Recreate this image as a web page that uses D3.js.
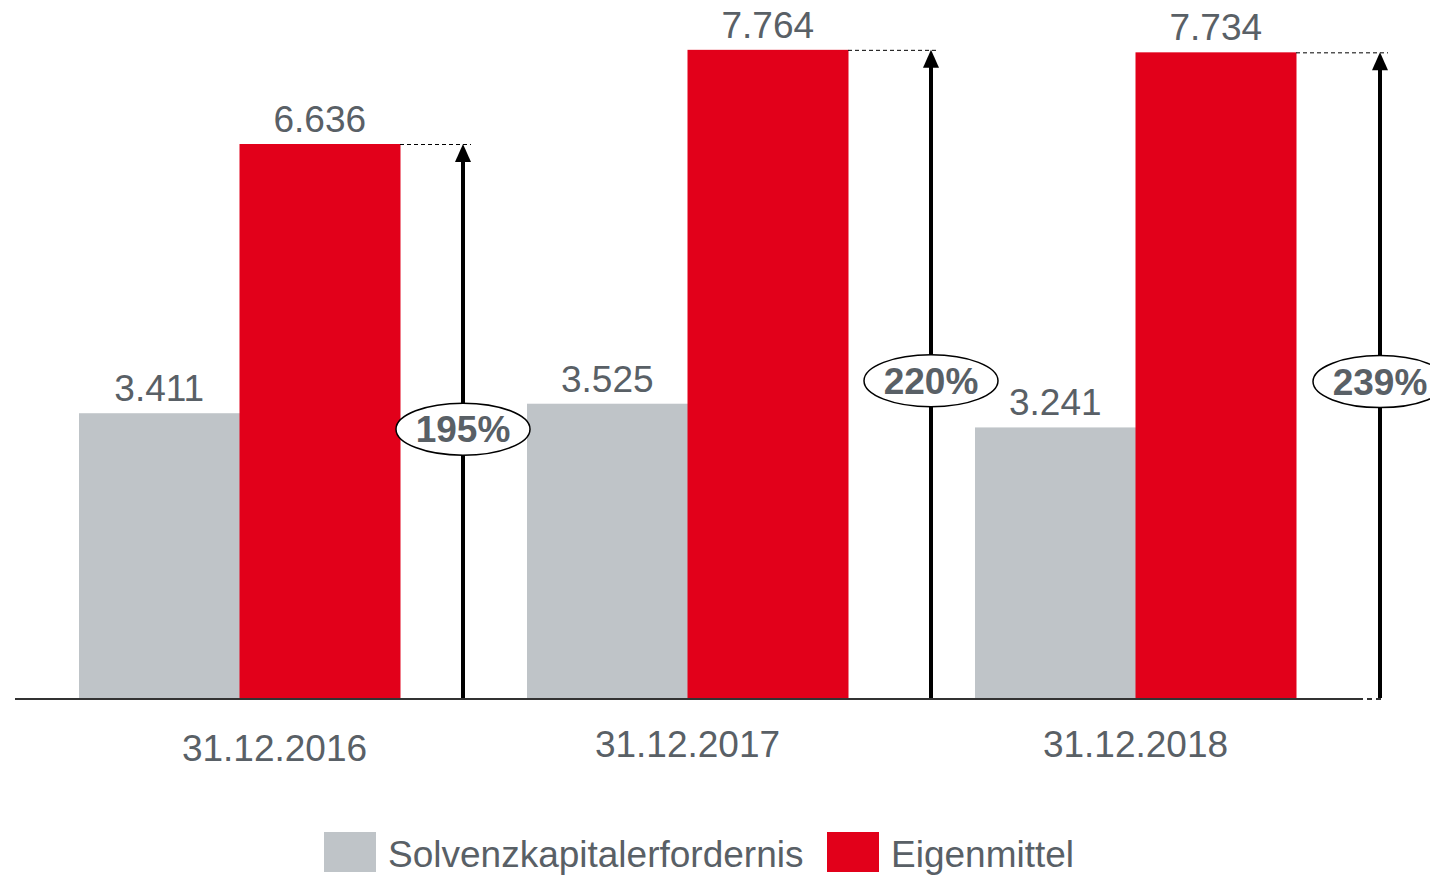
<!DOCTYPE html>
<html>
<head>
<meta charset="utf-8">
<script src="https://cdn.jsdelivr.net/npm/d3@7"></script>
<style>
  body { margin: 0; background: #fff; }
  svg { font-family: "Liberation Sans", Arial, sans-serif; }
</style>
</head>
<body>
<div id="chart"></div>
<script>
// data
var categories = ['31.12.2016', '31.12.2017', '31.12.2018'];
var seriesNames = ['Solvenzkapitalerfordernis', 'Eigenmittel'];
var scr = [3.411, 3.525, 3.241];
var ownFunds = [6.636, 7.764, 7.734];
var ratioLabels = ['195%', '220%', '239%'];

var WIDTH = 1430, HEIGHT = 877;
var BASE = 698;
var FONT = 37;
var colors = {'Solvenzkapitalerfordernis': '#bfc4c8', 'Eigenmittel': '#e2001a'};
var TEXT = '#596066';

// small layout tweaks per group (arrow offset, ratio bubble height in value units, label shift)
var ARROW_DX = [63, 83, 84];
var BUBBLE_AT = [3.22, 3.80, 3.79];
var LABEL_DX = [35, 0, 0];
var LABEL_DY = [4, 0, 0];

var fmt = function(v) { return v.toFixed(3); };

var svg = d3.select('#chart').append('svg')
  .attr('width', WIDTH)
  .attr('height', HEIGHT);

var x0 = d3.scaleBand()
  .domain(categories)
  .range([79, 1296])
  .paddingInner(127 / 448)
  .paddingOuter(0);

var x1 = d3.scaleBand()
  .domain(seriesNames)
  .range([0, x0.bandwidth()])
  .padding(0);

var y = d3.scaleLinear()
  .domain([0, 6.636])
  .range([BASE, 144]);

var rows = categories.map(function(c, i) {
  return {cat: c, i: i, values: [
    {name: seriesNames[0], v: scr[i]},
    {name: seriesNames[1], v: ownFunds[i]}
  ]};
});

var groups = svg.selectAll('.group')
  .data(rows)
  .enter().append('g')
  .attr('class', 'group')
  .attr('transform', function(d) { return 'translate(' + x0(d.cat) + ',0)'; });

groups.selectAll('rect')
  .data(function(d) { return d.values; })
  .enter().append('rect')
  .attr('x', function(d) { return x1(d.name); })
  .attr('y', function(d) { return y(d.v); })
  .attr('width', x1.bandwidth() + 0.5)
  .attr('height', function(d) { return BASE - y(d.v); })
  .attr('fill', function(d) { return colors[d.name]; });

groups.selectAll('.val')
  .data(function(d) { return d.values; })
  .enter().append('text')
  .attr('class', 'val')
  .attr('x', function(d) { return x1(d.name) + x1.bandwidth() / 2; })
  .attr('y', function(d) { return y(d.v) - 12; })
  .attr('text-anchor', 'middle')
  .attr('font-size', FONT)
  .attr('fill', TEXT)
  .text(function(d) { return fmt(d.v); });

// baseline
svg.append('line')
  .attr('x1', 15).attr('x2', 1358)
  .attr('y1', BASE + 1).attr('y2', BASE + 1)
  .attr('stroke', '#333').attr('stroke-width', 2);
svg.append('line')
  .attr('x1', 1358).attr('x2', 1384)
  .attr('y1', BASE + 1).attr('y2', BASE + 1)
  .attr('stroke', '#333').attr('stroke-width', 2)
  .attr('stroke-dasharray', '5,4');

// arrows with ratio bubbles
rows.forEach(function(d) {
  var redRight = x0(d.cat) + x0.bandwidth();
  var ax = redRight + ARROW_DX[d.i];
  var top = y(ownFunds[d.i]);

  svg.append('line')
    .attr('x1', redRight).attr('x2', ax + 8)
    .attr('y1', top + 0.5).attr('y2', top + 0.5)
    .attr('stroke', '#000').attr('stroke-width', 1)
    .attr('stroke-dasharray', '4,3');

  svg.append('line')
    .attr('x1', ax).attr('x2', ax)
    .attr('y1', BASE).attr('y2', top + 16)
    .attr('stroke', '#000').attr('stroke-width', 4);

  svg.append('path')
    .attr('d', 'M' + (ax - 8) + ',' + (top + 18) + ' L' + ax + ',' + top + ' L' + (ax + 8) + ',' + (top + 18) + ' Z')
    .attr('fill', '#000');

  var by = y(BUBBLE_AT[d.i]);
  svg.append('ellipse')
    .attr('cx', ax).attr('cy', by)
    .attr('rx', 67).attr('ry', 26)
    .attr('fill', '#fff')
    .attr('stroke', '#000').attr('stroke-width', 1.5);
  svg.append('text')
    .attr('x', ax).attr('y', by + 13)
    .attr('text-anchor', 'middle')
    .attr('font-size', FONT)
    .attr('font-weight', 'bold')
    .attr('fill', TEXT)
    .text(ratioLabels[d.i]);
});

// category axis
var xAxis = d3.axisBottom(x0).tickSize(0).tickPadding(0);
var ax = svg.append('g')
  .attr('transform', 'translate(0,' + (BASE + 59) + ')')
  .call(xAxis);
ax.select('.domain').remove();
ax.selectAll('text')
  .attr('font-size', FONT)
  .attr('font-family', '"Liberation Sans", Arial, sans-serif')
  .attr('fill', TEXT)
  .attr('dy', 0)
  .attr('x', function(d, i) { return LABEL_DX[i]; })
  .attr('y', function(d, i) { return LABEL_DY[i]; });

// legend
var legend = svg.append('g').attr('class', 'legend');
var legendX = [324, 827];
seriesNames.forEach(function(name, i) {
  legend.append('rect')
    .attr('x', legendX[i]).attr('y', 832)
    .attr('width', 52).attr('height', 40)
    .attr('fill', colors[name]);
  legend.append('text')
    .attr('x', legendX[i] + 64).attr('y', 867)
    .attr('font-size', FONT)
    .attr('fill', TEXT)
    .text(name);
});
</script>
</body>
</html>
